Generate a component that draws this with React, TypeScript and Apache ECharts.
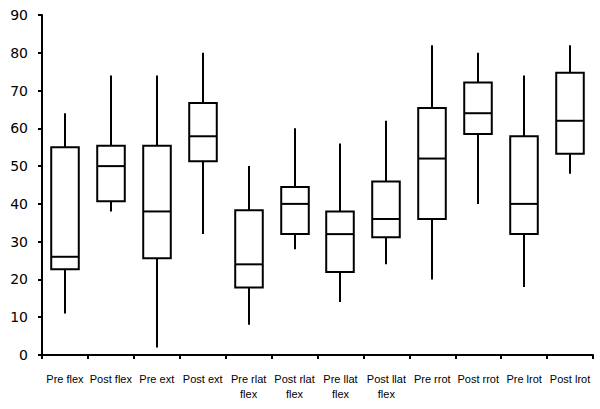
import React, { useEffect, useRef } from "react";
import * as echarts from "echarts";

const categories = [
  "Pre flex", "Post flex", "Pre ext", "Post ext", "Pre rlat\nflex", "Post rlat\nflex",
  "Pre llat\nflex", "Post llat\nflex", "Pre rrot", "Post rrot", "Pre lrot", "Post lrot",
];
const mins = [11, 38, 2, 32, 8, 28, 14, 24, 20, 40, 18, 48];
const q1s = [22.7, 40.7, 25.6, 51.3, 17.9, 32, 22, 31.2, 36, 58.5, 32, 53.3];
const medians = [26, 50, 38, 57.9, 24, 40, 32, 36, 52, 64, 40, 62];
const q3s = [55, 55.4, 55.4, 66.7, 38.3, 44.5, 38, 45.9, 65.4, 72.1, 57.9, 74.7];
const maxs = [64, 74, 74, 80, 50, 60, 56, 62, 82, 80, 74, 82];
const yTicks = [0, 10, 20, 30, 40, 50, 60, 70, 80, 90];

export default function App() {
  const ref = useRef<HTMLDivElement>(null);
  useEffect(() => {
    if (!ref.current) return;
    const chart = echarts.init(ref.current, null, { renderer: "svg" });
    const data = categories.map((_, i) => [i, mins[i], q1s[i], medians[i], q3s[i], maxs[i]]);
    const stroke = "#000";
    chart.setOption({
      animation: false,
      backgroundColor: "#fff",
      grid: { left: 42, right: 7, top: 15, bottom: 54 },
      xAxis: {
        type: "category",
        data: categories,
        boundaryGap: true,
        axisLine: { lineStyle: { color: stroke, width: 2 } },
        axisTick: { show: true, interval: 0, length: 4, lineStyle: { color: stroke, width: 2 } },
        axisLabel: {
          interval: 0,
          color: "#000",
          fontFamily: "Liberation Sans, Arial, sans-serif",
          fontSize: 11,
          lineHeight: 15,
          margin: 16,
        },
      },
      yAxis: {
        type: "value",
        min: yTicks[0],
        max: yTicks[yTicks.length - 1],
        interval: 10,
        splitLine: { show: false },
        axisLine: { show: true, lineStyle: { color: stroke, width: 2 } },
        axisTick: { show: true, length: 4, lineStyle: { color: stroke, width: 2 } },
        axisLabel: {
          color: "#000",
          fontFamily: "DejaVu Sans, Arial, sans-serif",
          fontSize: 14,
          margin: 14,
        },
      },
      series: [
        {
          type: "custom",
          data,
          encode: { x: 0, y: [1, 2, 3, 4, 5] },
          renderItem: (params: any, api: any) => {
            const x = api.value(0);
            const pMin = api.coord([x, api.value(1)]);
            const pQ1 = api.coord([x, api.value(2)]);
            const pMed = api.coord([x, api.value(3)]);
            const pQ3 = api.coord([x, api.value(4)]);
            const pMax = api.coord([x, api.value(5)]);
            const w = api.size([1, 0])[0] * 0.6;
            const cx = Math.round(pMed[0]);
            const half = w / 2;
            const ls = { stroke, lineWidth: 2, fill: "none" };
            return {
              type: "group",
              children: [
                { type: "line", shape: { x1: cx, y1: pMax[1], x2: cx, y2: pQ3[1] }, style: ls },
                { type: "line", shape: { x1: cx, y1: pQ1[1], x2: cx, y2: pMin[1] }, style: ls },
                {
                  type: "rect",
                  shape: { x: cx - half, y: pQ3[1], width: w, height: pQ1[1] - pQ3[1] },
                  style: { stroke, lineWidth: 2, fill: "#fff" },
                },
                { type: "line", shape: { x1: cx - half, y1: pMed[1], x2: cx + half, y2: pMed[1] }, style: ls },
              ],
            };
          },
        },
      ],
    });
    return () => chart.dispose();
  }, []);
  return <div ref={ref} style={{ width: 600, height: 409, position: "absolute", left: 0, top: 0 }} />;
}
